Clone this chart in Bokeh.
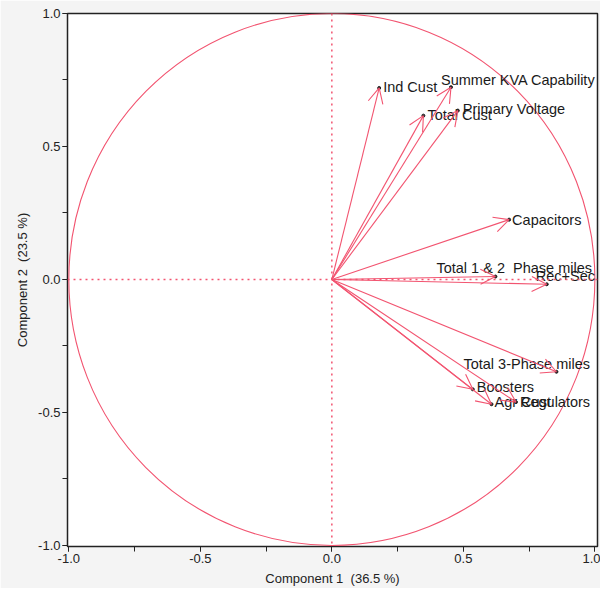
from bokeh.plotting import figure
from bokeh.models import (Arrow, OpenHead, ColumnDataSource, SingleIntervalTicker,
                          Span, Range1d, PrintfTickFormatter)
from bokeh.core.properties import value
from bokeh.embed import file_html
from bokeh.resources import INLINE

# ---- data (loadings) ----
variables = ["Ind Cust", "Summer KVA Capability", "Total Cust", "Primary Voltage",
             "Capacitors", "Total 1 & 2\u00a0 Phase miles", "Rec+Sec",
             "Total 3-Phase miles", "Boosters", "Agr Cust", "Regulators"]
comp1 = [0.180, 0.453, 0.348, 0.479, 0.674, 0.622, 0.817, 0.854, 0.536, 0.607, 0.700]
comp2 = [0.720, 0.723, 0.616, 0.635, 0.225, 0.011, -0.018, -0.347, -0.413, -0.469, -0.461]
x_title = "Component 1\u00a0 (36.5 %)"
y_title = "Component 2\u00a0 (23.5 %)"

# ---- label placement (screen pixel offsets, style only) ----
lab_dx = [4, -10, 4, 5, 3, -59, -11, -93, 4, 3, 4]
lab_dy = [-1, -7, -1, -2, 0, -9, -8, -8, -2, -2, 0]

LINE = "#f25470"
FONT = "Liberation Sans"

p = figure(width=600, height=588, output_backend="svg", toolbar_location=None,
           x_range=Range1d(-1.005, 1.01), y_range=Range1d(-1.004, 1.0),
           min_border_left=67, min_border_right=3, min_border_top=13,
           min_border_bottom=41)
p.border_fill_color = "#f4f4f4"
p.background_fill_color = "white"
p.outline_line_color = "#222222"
p.outline_line_width = 1.5
p.xgrid.visible = False
p.ygrid.visible = False

for ax, title in ((p.xaxis, x_title), (p.yaxis, y_title)):
    ax.ticker = SingleIntervalTicker(interval=0.5, num_minor_ticks=2)
    ax.formatter = PrintfTickFormatter(format="%.1f")
    ax.axis_label = title
    ax.axis_label_text_font = FONT
    ax.axis_label_text_font_style = "normal"
    ax.axis_label_text_font_size = "13px"
    ax.axis_label_text_color = "#222222"
    ax.major_label_text_font = FONT
    ax.major_label_text_font_size = "13px"
    ax.major_label_text_color = "#222222"
    ax.axis_line_color = "#222222"
    ax.major_tick_line_color = "#222222"
    ax.minor_tick_line_color = "#222222"
    ax.major_tick_in = 0
    ax.major_tick_out = 5
    ax.minor_tick_in = 0
    ax.minor_tick_out = 5
    ax.major_label_standoff = 2
    ax.axis_label_standoff = 5

# unit circle and dotted zero lines
p.ellipse(x=0, y=0, width=2, height=2, fill_color=None, line_color=LINE, line_width=1.1)
p.add_layout(Span(location=0, dimension="width", line_color=LINE, line_dash="2 4", line_width=1.5))
p.add_layout(Span(location=0, dimension="height", line_color=LINE, line_dash="2 4", line_width=1.5))

src = ColumnDataSource(dict(name=variables, x=comp1, y=comp2, x0=[0] * len(comp1),
                            y0=[0] * len(comp1), dx=lab_dx, dy=lab_dy))

p.add_layout(Arrow(end=OpenHead(size=15, line_color=LINE, line_width=1.1),
                   x_start="x0", y_start="y0", x_end="x", y_end="y",
                   line_color=LINE, line_width=1.1, source=src))
p.scatter(x="x", y="y", source=src, size=3, color="#222222")
p.text(x="x", y="y", text="name", source=src, x_offset="dx", y_offset="dy",
       text_font=value(FONT), text_font_size="14.5px", text_color="#1a1a1a",
       text_align="left", text_baseline="middle")

open("out.html", "w").write(file_html(p, INLINE))
